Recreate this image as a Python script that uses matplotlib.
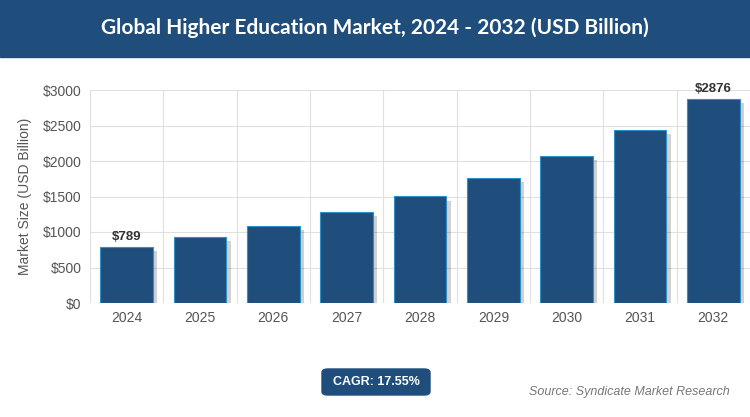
import matplotlib
matplotlib.use("Agg")
import matplotlib.pyplot as plt
import matplotlib.patheffects as pe
from matplotlib.patches import FancyBboxPatch

plt.rcParams['font.family'] = ['Liberation Sans', 'DejaVu Sans']

years = ["2024","2025","2026","2027","2028","2029","2030","2031","2032"]
values = [789, 925, 1087, 1278, 1502, 1766, 2076, 2440, 2876]
yticks = [0, 500, 1000, 1500, 2000, 2500, 3000]

W, H = 750, 417
fig = plt.figure(figsize=(W/100, H/100), dpi=100)
fig.patch.set_facecolor("white")

fig.patches.append(plt.Rectangle((0, 1-57/H), 1, 57/H, transform=fig.transFigure,
                                 color="#1f4e7d", zorder=0))
fig.text(0.5, 1-28/H, "Global Higher Education Market, 2024 - 2032 (USD Billion)",
         ha="center", va="center", color="white", fontsize=15, fontweight="bold",
         family="Lato")

ax = fig.add_axes([90/W, 1-303/H, 660/W, 213/H])
x = range(len(years))
bars = ax.bar(x, values, width=0.72, color="#1f4e7d", edgecolor="#2e8fc9", linewidth=0.8,
              zorder=3)
for b in bars:
    b.set_path_effects([pe.SimplePatchShadow(offset=(3, -3), shadow_rgbFace="#000000", alpha=0.18),
                        pe.Normal()])
ax.set_ylim(0, 3000)
ax.set_xlim(-0.5, len(years)-0.5)
ax.set_yticks(yticks)
ax.set_yticklabels([f"${v}" for v in yticks], color="#555555", fontsize=10)
ax.set_xticks(list(x))
ax.set_xticklabels(years, color="#555555", fontsize=10)
ax.tick_params(length=0, pad=6)
ax.set_xticks([i+0.5 for i in range(-1, len(years))], minor=True)
ax.tick_params(which="minor", length=0)
ax.grid(True, which="major", axis="y", color="#e0e0e0", linewidth=0.8, zorder=0)
ax.grid(True, which="minor", axis="x", color="#e0e0e0", linewidth=0.8, zorder=0)
for s in ax.spines.values():
    s.set_visible(False)
ax.set_ylabel("Market Size (USD Billion)", color="#555555", fontsize=10, labelpad=8)

for i in (0, len(values)-1):
    ax.text(i, values[i]+60, f"${values[i]}", ha="center", va="bottom", fontsize=9.5,
            fontweight="bold", color="#333333")

bx, by, bw, bh = 322/W, 1-395/H, 108/W, 26/H
fig.patches.append(FancyBboxPatch((bx, by), bw, bh, boxstyle="round,pad=0,rounding_size=0.008",
                                  transform=fig.transFigure, color="#1f4e7d"))
fig.text(bx+bw/2, by+bh/2, "CAGR: 17.55%", ha="center", va="center", color="white",
         fontsize=9, fontweight="bold")
fig.text(730/W, 1-392/H, "Source: Syndicate Market Research", ha="right", va="center",
         color="#777777", fontsize=9, style="italic")

fig.savefig("out.png", dpi=100)
